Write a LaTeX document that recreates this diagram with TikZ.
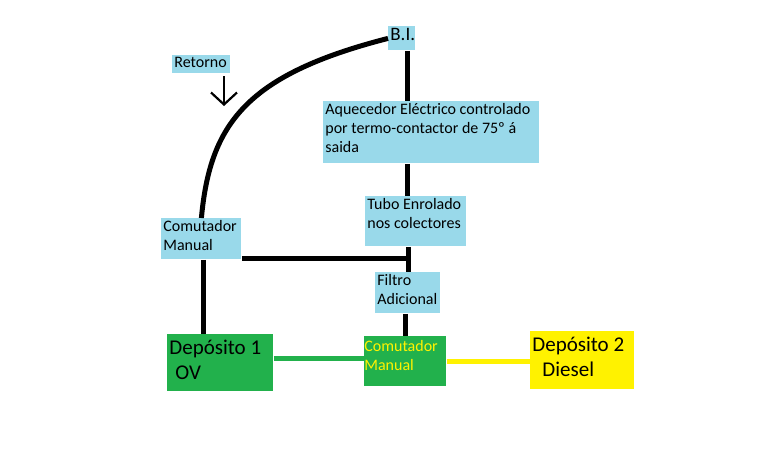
\documentclass[tikz,border=0pt]{standalone}
\usepackage{fontspec}
\setmainfont{Carlito}
\usetikzlibrary{arrows.meta}
\definecolor{lblue}{RGB}{153,217,234}
\definecolor{pgreen}{RGB}{34,177,76}
\definecolor{pyellow}{RGB}{255,242,0}
\newcommand{\boxtxt}[3]{\parbox[b][#2][t]{#1}{#3}}

\begin{document}
\begin{tikzpicture}[x=0.5pt, y=-0.5pt,
    every node/.style={font=\fontsize{8}{9.5}\selectfont},
    bx/.style={fill=lblue, anchor=north west, inner sep=1pt},
    gbx/.style={fill=pgreen, anchor=north west, inner sep=1pt},
    ybx/.style={fill=pyellow, anchor=north west, inner sep=1pt},
    big/.style={font=\fontsize{10.5}{12.5}\selectfont},
    ln/.style={line width=2.5pt},
    gline/.style={line width=2.5pt, pgreen},
    yline/.style={line width=2.5pt, pyellow},
    rarr/.style={line width=1.1pt, -{Straight Barb[length=6pt,width=13pt]}},
  ]
  \useasboundingbox[fill=white] (0,0) rectangle (778,467);
  % boxes
  \node[bx, font=\fontsize{9.5}{11}\selectfont] (bi) at (388,26) {\boxtxt{11.5pt}{10pt}{\centering B.I.}};
  \node[bx] (ret) at (172,55) {\boxtxt{27pt}{7pt}{Retorno}};
  \node[bx] (aq) at (323,101) {\boxtxt{106pt}{29pt}{Aquecedor Eléctrico controlado\\por termo-contactor de 75º á\\saida}};
  \node[bx] (tubo) at (365,196) {\boxtxt{48.5pt}{23pt}{Tubo Enrolado\\nos colectores}};
  \node[bx] (comL) at (161,218) {\boxtxt{38pt}{18.5pt}{Comutador\\Manual}};
  \node[bx] (filtro) at (375,272) {\boxtxt{30.5pt}{18.5pt}{Filtro\\Adicional}};
  \node[gbx, big] (dep1) at (167,334) {\boxtxt{51pt}{26.5pt}{\vspace*{2pt}Depósito 1\\\hspace*{3pt}OV}};
  \node[gbx, inner xsep=0pt, text=pyellow] (comG) at (364,336) {\boxtxt{41pt}{23pt}{\vspace*{1pt}Comutador\\Manual}};
  \node[ybx, big] (dep2) at (530,331) {\boxtxt{50pt}{27pt}{\vspace*{2pt}Depósito 2\\\hspace*{5pt}Diesel}};
  % guide coordinates
  \coordinate (sp) at (407,0);
  \coordinate (tj) at (408,258);
  \coordinate (lc) at (203,0);
  \coordinate (fc) at (405,0);
  \coordinate (gr) at (0,358);
  \coordinate (yr) at (0,361);
  \coordinate (ra) at (224,76);
  \coordinate (rb) at (224,106);
  % connectors
  \draw[ln] (bi.south -| sp) -- (aq.north -| sp);
  \draw[ln] (aq.south -| sp) -- (tubo.north -| sp);
  \draw[ln] (tubo.south -| tj) -- (filtro.north -| tj);
  \draw[ln] (comL.south east |- tj) -- (tj);
  \draw[ln] (comL.south -| lc) -- (dep1.north -| lc);
  \draw[ln] (filtro.south -| fc) -- (comG.north -| fc);
  \draw[ln] (comL.north) .. controls (210,125) and (245,75) .. (bi.west);
  \draw[gline] (dep1.east |- gr) -- (comG.west |- gr);
  \draw[yline] (comG.east |- yr) -- (dep2.west |- yr);
  \draw[rarr] (ra) -- (rb);
\end{tikzpicture}
\end{document}
